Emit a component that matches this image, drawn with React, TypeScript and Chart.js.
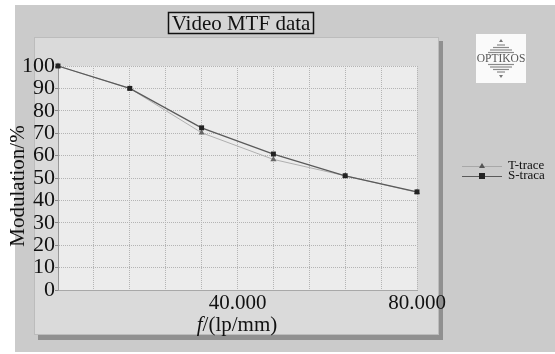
import React, { useEffect, useRef } from "react";
import { Chart, registerables } from "chart.js";

Chart.register(...registerables);

const frequencies = [0, 16000, 32000, 48000, 64000, 80000];
const tTrace = [100, 90, 70.2, 58.3, 51, 43.6];
const sTrace = [100, 90, 72.4, 60.7, 51, 43.8];
const seriesNames = ["T-trace", "S-traca"];
const xTickValues = [40000, 80000];
const xTickLabels = ["40.000", "80.000"];
const chartTitle = "Video MTF data";
const yTitle = "Modulation/%";
const xTitleItalic = "f";
const xTitleRest = "/(lp/mm)";
const logoText = "OPTIKOS";

const SERIF = "'Liberation Serif', 'Times New Roman', serif";

const decorPlugin = {
  id: "decor",
  beforeDraw(chart: any) {
    const { ctx, chartArea } = chart;
    ctx.save();
    ctx.fillStyle = "#ffffff";
    ctx.fillRect(0, 0, chart.width, chart.height);
    ctx.fillStyle = "#cbcbcb";
    ctx.fillRect(15, 5, chart.width - 15, 347);
    // panel shadow
    ctx.fillStyle = "#909090";
    ctx.fillRect(38, 41, 405, 299);
    // panel
    ctx.fillStyle = "#dadada";
    ctx.fillRect(34, 37, 405, 298);
    ctx.strokeStyle = "#bcbcbc";
    ctx.lineWidth = 1;
    ctx.strokeRect(34.5, 37.5, 404, 297);
    // plot area
    ctx.fillStyle = "#ececec";
    ctx.fillRect(chartArea.left, chartArea.top, chartArea.right - chartArea.left, chartArea.bottom - chartArea.top);
    ctx.restore();
  },
  afterDraw(chart: any) {
    const { ctx } = chart;
    ctx.save();

    // title box
    ctx.fillStyle = "#d4d4d4";
    ctx.fillRect(168, 12, 146, 22);
    ctx.strokeStyle = "#111";
    ctx.lineWidth = 1.5;
    ctx.strokeRect(168.5, 12.5, 145, 21);
    ctx.fillStyle = "#111";
    ctx.font = `21px ${SERIF}`;
    ctx.textAlign = "center";
    ctx.textBaseline = "middle";
    ctx.fillText(chartTitle, 241, 24);

    // y title
    ctx.save();
    ctx.translate(18, 186);
    ctx.rotate(-Math.PI / 2);
    ctx.font = `21px ${SERIF}`;
    ctx.textAlign = "center";
    ctx.textBaseline = "middle";
    ctx.fillText(yTitle, 0, 0);
    ctx.restore();

    // x title
    ctx.font = `italic 21px ${SERIF}`;
    const wI = ctx.measureText(xTitleItalic).width;
    ctx.font = `21px ${SERIF}`;
    const wR = ctx.measureText(xTitleRest).width;
    const startX = 237 - (wI + wR) / 2;
    ctx.textAlign = "left";
    ctx.font = `italic 21px ${SERIF}`;
    ctx.fillText(xTitleItalic, startX, 325);
    ctx.font = `21px ${SERIF}`;
    ctx.fillText(xTitleRest, startX + wI, 325);

    // legend
    const lx = 462, lw = 40;
    const rows = [
      { y: 166, line: "#a8a8a8", marker: "tri" },
      { y: 176, line: "#5a5a5a", marker: "sq" },
    ];
    ctx.font = `13px ${SERIF}`;
    rows.forEach((r, i) => {
      ctx.strokeStyle = r.line;
      ctx.lineWidth = 1;
      ctx.beginPath();
      ctx.moveTo(lx, r.y + 0.5);
      ctx.lineTo(lx + lw, r.y + 0.5);
      ctx.stroke();
      const cx = lx + lw / 2;
      if (r.marker === "tri") {
        ctx.fillStyle = "#555";
        ctx.beginPath();
        ctx.moveTo(cx, r.y - 3);
        ctx.lineTo(cx + 3, r.y + 2);
        ctx.lineTo(cx - 3, r.y + 2);
        ctx.closePath();
        ctx.fill();
      } else {
        ctx.fillStyle = "#222";
        ctx.fillRect(cx - 3, r.y - 3, 6, 6);
      }
      ctx.fillStyle = "#111";
      ctx.textAlign = "left";
      ctx.textBaseline = "middle";
      ctx.fillText(seriesNames[i], 508, r.y);
    });

    // logo
    ctx.fillStyle = "#fafafa";
    ctx.fillRect(476, 34, 50, 49);
    ctx.strokeStyle = "#8a8a8a";
    ctx.lineWidth = 1.2;
    const cxL = 501;
    const stripeHalf = [4, 8, 11, 13];
    stripeHalf.forEach((h, i) => {
      const yTop = 45 + i * 2.5;
      ctx.beginPath();
      ctx.moveTo(cxL - h, yTop);
      ctx.lineTo(cxL + h, yTop);
      ctx.stroke();
      const yBot = 72 - i * 2.5;
      ctx.beginPath();
      ctx.moveTo(cxL - h, yBot);
      ctx.lineTo(cxL + h, yBot);
      ctx.stroke();
    });
    ctx.fillStyle = "#777";
    ctx.beginPath();
    ctx.moveTo(cxL, 39); ctx.lineTo(cxL + 2, 42); ctx.lineTo(cxL - 2, 42); ctx.closePath(); ctx.fill();
    ctx.beginPath();
    ctx.moveTo(cxL, 78); ctx.lineTo(cxL + 2, 75); ctx.lineTo(cxL - 2, 75); ctx.closePath(); ctx.fill();
    ctx.fillStyle = "#555";
    ctx.font = `11.5px ${SERIF}`;
    ctx.textAlign = "center";
    ctx.textBaseline = "middle";
    ctx.fillText(logoText, cxL, 58.5);

    ctx.restore();
  },
};

export default function App() {
  const ref = useRef<HTMLCanvasElement>(null);
  useEffect(() => {
    if (!ref.current) return;
    const chart = new Chart(ref.current, {
      type: "line",
      data: {
        datasets: [
          {
            label: seriesNames[1],
            data: frequencies.map((f, i) => ({ x: f, y: sTrace[i] })),
            borderColor: "#5a5a5a",
            borderWidth: 1.3,
            pointStyle: "rect",
            pointRadius: 3.5,
            pointBackgroundColor: "#222",
            pointBorderColor: "#222",
            pointBorderWidth: 0,
            tension: 0,
            clip: false,
          },
          {
            label: seriesNames[0],
            data: frequencies.map((f, i) => ({ x: f, y: tTrace[i] })),
            borderColor: "#b0b0b0",
            borderWidth: 1,
            pointStyle: "triangle",
            pointRadius: 3.5,
            pointBackgroundColor: "#666",
            pointBorderColor: "#666",
            pointBorderWidth: 0,
            tension: 0,
            clip: false,
          },
        ],
      },
      options: {
        animation: false,
        responsive: false,
        devicePixelRatio: 1,
        layout: { padding: { top: 66, left: 0, right: 138, bottom: 34 } },
        plugins: { legend: { display: false }, tooltip: { enabled: false }, title: { display: false } },
        scales: {
          x: {
            type: "linear",
            min: 0,
            max: 80000,
            afterFit: (s: any) => { s.height = 30; },
            afterBuildTicks: (s: any) => {
              const t = [];
              for (let v = 0; v <= 80000; v += 8000) t.push({ value: v });
              s.ticks = t;
            },
            ticks: {
              autoSkip: false,
              maxRotation: 0,
              padding: 1,
              color: "#111",
              font: { family: SERIF, size: 21 },
              callback: (v: any) => {
                const idx = xTickValues.indexOf(Number(v));
                return idx >= 0 ? xTickLabels[idx] : "";
              },
            },
            grid: { color: "#b4b4b4", lineWidth: 1, drawTicks: false },
            border: { display: true, color: "#a8a8a8", dash: [1, 1] },
          },
          y: {
            min: 0,
            max: 100,
            afterFit: (s: any) => { s.width = 58; },
            ticks: {
              stepSize: 10,
              autoSkip: false,
              padding: 0,
              color: "#111",
              font: { family: SERIF, size: 22 },
            },
            grid: { color: "#b4b4b4", lineWidth: 1, drawTicks: true, tickLength: 3, tickColor: "#888" },
            border: { display: true, color: "#999", dash: [1, 1] },
          },
        },
      },
      plugins: [decorPlugin],
    });
    return () => chart.destroy();
  }, []);
  return (
    <div style={{ position: "fixed", left: 0, top: 0, width: 555, height: 354 }}>
      <canvas ref={ref} width={555} height={354} style={{ width: 555, height: 354, display: "block" }} />
    </div>
  );
}
